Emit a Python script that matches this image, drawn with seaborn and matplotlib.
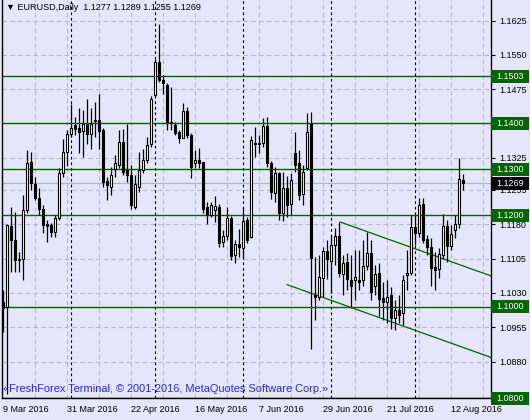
import numpy as np
import pandas as pd
import matplotlib
matplotlib.use("Agg")
import matplotlib.pyplot as plt
import matplotlib.transforms as mtransforms
from matplotlib.patches import Rectangle
import seaborn as sns

# EURUSD daily bars, 9 Mar 2016 .. 17 Aug 2016
opens = [1.1009, 1.1000, 1.1176, 1.1146, 1.1101, 1.1105, 1.1211, 1.1315, 1.1267, 1.1238,
         1.1214, 1.1180, 1.1178, 1.1163, 1.1193, 1.1291, 1.1337, 1.1378, 1.1396, 1.1391,
         1.1384, 1.1399, 1.1376, 1.1405, 1.1407, 1.1386, 1.1274, 1.1261, 1.1300, 1.1310,
         1.1359, 1.1298, 1.1287, 1.1217, 1.1261, 1.1298, 1.1321, 1.1356, 1.1462, 1.1535,
         1.1496, 1.1485, 1.1404, 1.1396, 1.1382, 1.1369, 1.1428, 1.1375, 1.1313, 1.1320,
         1.1315, 1.1218, 1.1200, 1.1212, 1.1218, 1.1141, 1.1154, 1.1193, 1.1113, 1.1136,
         1.1128, 1.1189, 1.1151, 1.1357, 1.1355, 1.1358, 1.1394, 1.1314, 1.1248, 1.1291,
         1.1204, 1.1260, 1.1225, 1.1335, 1.1313, 1.1245, 1.1302, 1.1400, 1.1025, 1.1020,
         1.1063, 1.1121, 1.1100, 1.1134, 1.1154, 1.1072, 1.1098, 1.1059, 1.1057, 1.1059,
         1.1059, 1.1088, 1.1118, 1.1045, 1.1073, 1.1018, 1.1010, 1.1025, 1.0974, 1.0992,
         1.0985, 1.1068, 1.1073, 1.1174, 1.1160, 1.1224, 1.1148, 1.1130, 1.1086, 1.1083,
         1.1112, 1.1176, 1.1132, 1.1167, 1.1180, 1.1277]
highs = [1.1036, 1.1180, 1.1217, 1.1207, 1.1119, 1.1244, 1.1342, 1.1337, 1.1283, 1.1258,
         1.1221, 1.1189, 1.1183, 1.1200, 1.1302, 1.1366, 1.1385, 1.1442, 1.1415, 1.1433,
         1.1429, 1.1453, 1.1433, 1.1447, 1.1464, 1.1390, 1.1283, 1.1305, 1.1331, 1.1385,
         1.1389, 1.1399, 1.1309, 1.1287, 1.1338, 1.1345, 1.1371, 1.1460, 1.1540, 1.1617,
         1.1505, 1.1488, 1.1480, 1.1404, 1.1385, 1.1445, 1.1436, 1.1380, 1.1342, 1.1347,
         1.1316, 1.1229, 1.1229, 1.1241, 1.1225, 1.1167, 1.1218, 1.1199, 1.1145, 1.1170,
         1.1218, 1.1196, 1.1372, 1.1392, 1.1375, 1.1411, 1.1415, 1.1318, 1.1305, 1.1294,
         1.1294, 1.1285, 1.1292, 1.1382, 1.1342, 1.1309, 1.1422, 1.1425, 1.1108, 1.1112,
         1.1130, 1.1145, 1.1156, 1.1171, 1.1185, 1.1112, 1.1116, 1.1112, 1.1123, 1.1123,
         1.1145, 1.1163, 1.1145, 1.1090, 1.1095, 1.1053, 1.1057, 1.1042, 1.1014, 1.1025,
         1.1068, 1.1123, 1.1200, 1.1200, 1.1237, 1.1237, 1.1156, 1.1149, 1.1119, 1.1128,
         1.1202, 1.1189, 1.1178, 1.1200, 1.1324, 1.1289]
lows = [1.0945, 1.0810, 1.1076, 1.1076, 1.1076, 1.1058, 1.1204, 1.1254, 1.1233, 1.1200,
        1.1160, 1.1141, 1.1151, 1.1151, 1.1190, 1.1283, 1.1307, 1.1370, 1.1375, 1.1335,
        1.1327, 1.1356, 1.1345, 1.1371, 1.1345, 1.1261, 1.1233, 1.1243, 1.1283, 1.1302,
        1.1287, 1.1272, 1.1214, 1.1214, 1.1250, 1.1291, 1.1313, 1.1349, 1.1460, 1.1491,
        1.1465, 1.1385, 1.1385, 1.1375, 1.1358, 1.1369, 1.1368, 1.1282, 1.1302, 1.1302,
        1.1204, 1.1180, 1.1196, 1.1185, 1.1130, 1.1130, 1.1145, 1.1102, 1.1095, 1.1108,
        1.1107, 1.1139, 1.1150, 1.1326, 1.1335, 1.1349, 1.1305, 1.1235, 1.1229, 1.1189,
        1.1188, 1.1195, 1.1200, 1.1293, 1.1233, 1.1221, 1.1298, 1.0908, 1.0970, 1.1014,
        1.1020, 1.1060, 1.1030, 1.1090, 1.1065, 1.1025, 1.1036, 1.0998, 1.1014, 1.1036,
        1.1046, 1.1080, 1.1014, 1.1025, 1.0979, 1.0970, 1.0965, 1.0952, 1.0948, 1.0965,
        1.0959, 1.1036, 1.1068, 1.1134, 1.1152, 1.1140, 1.1112, 1.1046, 1.1036, 1.1062,
        1.1105, 1.1097, 1.1123, 1.1149, 1.1172, 1.1255]
closes = [1.0998, 1.1178, 1.1146, 1.1101, 1.1105, 1.1211, 1.1314, 1.1269, 1.1238, 1.1214,
          1.1178, 1.1175, 1.1163, 1.1193, 1.1291, 1.1337, 1.1378, 1.1391, 1.1388, 1.1382,
          1.1398, 1.1378, 1.1399, 1.1408, 1.1384, 1.1272, 1.1265, 1.1287, 1.1313, 1.1359,
          1.1294, 1.1287, 1.1221, 1.1267, 1.1298, 1.1321, 1.1352, 1.1453, 1.1534, 1.1495,
          1.1488, 1.1404, 1.1400, 1.1380, 1.1369, 1.1427, 1.1375, 1.1305, 1.1320, 1.1313,
          1.1214, 1.1200, 1.1221, 1.1219, 1.1139, 1.1154, 1.1193, 1.1110, 1.1137, 1.1130,
          1.1186, 1.1146, 1.1365, 1.1355, 1.1358, 1.1394, 1.1314, 1.1251, 1.1291, 1.1205,
          1.1258, 1.1221, 1.1276, 1.1309, 1.1243, 1.1294, 1.1382, 1.1107, 1.1022, 1.1065,
          1.1121, 1.1105, 1.1134, 1.1154, 1.1073, 1.1096, 1.1061, 1.1046, 1.1064, 1.1054,
          1.1088, 1.1117, 1.1032, 1.1072, 1.1017, 1.1010, 1.1022, 1.0974, 1.0993, 1.0981,
          1.1057, 1.1073, 1.1174, 1.1160, 1.1222, 1.1146, 1.1130, 1.1084, 1.1080, 1.1114,
          1.1176, 1.1132, 1.1159, 1.1181, 1.1278, 1.1269]

date_ticks = [0, 16, 32, 48, 64, 80, 96, 112]
date_labels = ["9 Mar 2016", "31 Mar 2016", "22 Apr 2016", "16 May 2016",
               "7 Jun 2016", "29 Jun 2016", "21 Jul 2016", "12 Aug 2016"]
month_starts = [17, 38, 60, 82, 103]
price_ticks = [1.1625, 1.1550, 1.1475, 1.1325, 1.1255, 1.1180, 1.1105, 1.1030, 1.0955, 1.0880]
levels = [1.1503, 1.1400, 1.1300, 1.1200, 1.1000, 1.0800]
last_price = 1.1269

# channel trend lines (bar index, price)
upper_x = [84.25, 122]
upper_y = [1.1185, 1.1067]
lower_x = [71, 122]
lower_y = [1.1048, 1.0889]

bg = "#E6E6FA"
green = "#006400"

df = pd.DataFrame({"open": opens, "high": highs, "low": lows, "close": closes})
df["bar"] = np.arange(len(df))
df["up"] = df["close"] >= df["open"]

sns.set_style("white")
plt.rcParams["font.family"] = ["Liberation Sans", "DejaVu Sans"]

fig = plt.figure(figsize=(5.3, 4.2), dpi=100, facecolor=bg)
ax = fig.add_axes([2 / 530, 22 / 420, 489 / 530, 398 / 420])
ax.set_facecolor(bg)

ax.set_xlim(-0.25, 122)
ax.set_ylim(1.08003, 1.16698)

# grid
for x in range(8, 122, 8):
    ax.axvline(x, color="#B8B8C8", lw=0.8, ls=(0, (4, 3)), zorder=0)
for y in price_ticks + [1.1400]:
    ax.axhline(y, color="#B8B8C8", lw=0.8, ls=(0, (4, 3)), zorder=0)
for x in month_starts:
    ax.axvline(x, color="black", lw=0.8, ls=(0, (2.5, 2.5)), zorder=1)

# levels and current price
ax.axhline(last_price, color="#B4B4BE", lw=0.9, zorder=1)
for y in levels:
    ax.axhline(y, color=green, lw=1.0, zorder=2)

# channel
sns.lineplot(x=upper_x, y=upper_y, color=green, lw=0.9, ax=ax, zorder=2)
sns.lineplot(x=lower_x, y=lower_y, color=green, lw=0.9, ax=ax, zorder=2)

# candles
ax.vlines(df["bar"], df["low"], df["high"], color="black", lw=0.9, zorder=3)
body_lo = df[["open", "close"]].min(axis=1)
body_h = (df["close"] - df["open"]).abs().clip(lower=0.00006)
ax.bar(df["bar"], body_h, bottom=body_lo, width=0.62,
       color=np.where(df["up"], "white", "black"), edgecolor="black", lw=0.8, zorder=4)

# axes styling
for s in ax.spines.values():
    s.set_color("black")
    s.set_linewidth(1.0)
ax.spines["top"].set_visible(False)
ax.yaxis.tick_right()
ax.set_yticks(price_ticks)
ax.set_yticklabels([f"{p:.4f}" for p in price_ticks])
ax.tick_params(axis="y", direction="out", length=3, width=0.8, pad=3, labelsize=6.5, colors="black")
ax.set_xticks(date_ticks)
ax.set_xticklabels(date_labels, ha="left")
ax.tick_params(axis="x", direction="out", length=3, width=0.8, pad=2, labelsize=6.5, colors="black")
ax.set_xlabel("")
ax.set_ylabel("")

# price label boxes on the right
trans = mtransforms.blended_transform_factory(ax.transAxes, ax.transData)
box_h = 13 / 4572
for y, fc in [(v, green) for v in levels] + [(last_price, "black")]:
    ax.add_patch(Rectangle((1.0, y - box_h / 2), 38 / 489, box_h, transform=trans,
                           facecolor=fc, edgecolor="none", clip_on=False, zorder=10))
    ax.text(1.0 + 5 / 489, y, f"{y:.4f}", transform=trans, color="white", fontsize=6.5,
            va="center", ha="left", clip_on=False, zorder=11)

ax.text(4 / 489, 1 - 8 / 398, "\u25bc EURUSD,Daily  1.1277 1.1289 1.1255 1.1269",
        transform=ax.transAxes, fontsize=6.5, va="center", ha="left", color="black")
ax.text(1 / 489, 9 / 398, "\u00abFreshForex Terminal, \u00a9 2001-2016, MetaQuotes Software Corp.\u00bb",
        transform=ax.transAxes, fontsize=7.9, va="center", ha="left", color="#2828FF")

fig.savefig("out.png", dpi=100, facecolor=bg)
